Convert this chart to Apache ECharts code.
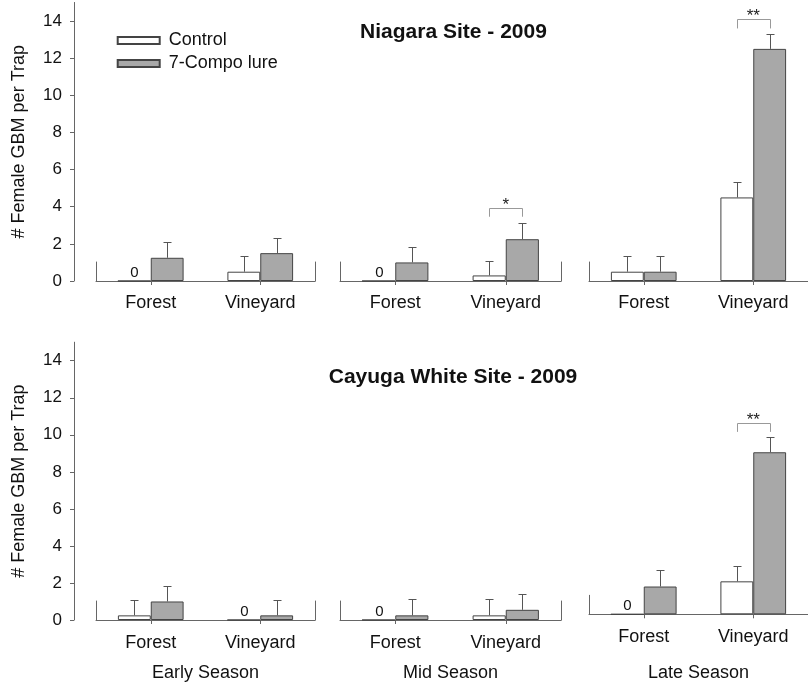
<!DOCTYPE html>
<html>
<head>
<meta charset="utf-8">
<script src="https://cdn.jsdelivr.net/npm/echarts@6/dist/echarts.min.js"></script>
<style>html,body{margin:0;padding:0;background:#fff;}#c{width:808px;height:687px;}</style>
</head>
<body>
<div id="c"></div>
<script>
// ---- data ----
var categories = ['Forest', 'Vineyard'];
var seasons = ['Early Season', 'Mid Season', 'Late Season'];
var siteTitles = ['Niagara Site - 2009', 'Cayuga White Site - 2009'];
var seriesNames = ['Control', '7-Compo lure'];
var yTickValues = [0, 2, 4, 6, 8, 10, 12, 14];

// Niagara (top row): [season][category]
var niagaraControl   = [[0, 0.5], [0, 0.3], [0.5, 4.5]];
var niagaraControlSE = [[0, 0.85], [0, 0.8], [0.85, 0.85]];
var niagaraLure      = [[1.25, 1.5], [1.0, 2.25], [0.5, 12.5]];
var niagaraLureSE    = [[0.85, 0.83], [0.85, 0.85], [0.85, 0.8]];
// Cayuga White (bottom row)
var cayugaControl    = [[0.25, 0], [0, 0.25], [0, 1.78]];
var cayugaControlSE  = [[0.85, 0], [0, 0.9], [0, 0.81]];
var cayugaLure       = [[1.0, 0.25], [0.25, 0.55], [1.5, 8.75]];
var cayugaLureSE     = [[0.85, 0.85], [0.9, 0.85], [0.87, 0.84]];
// significance brackets: [row, season, categoryIndex, bracketTop, legBottom, label]
var significance = [
  [0, 1, 1, 3.95, 3.46, '*'],
  [0, 2, 1, 14.1, 13.6, '**'],
  [1, 2, 1, 10.35, 9.85, '**']
];

// ---- layout ----
var FONT = '"Liberation Sans", Arial, sans-serif';
var panelLeft  = [96, 340, 589];
var panelWidth = [219, 221, 219];
var rowBase    = [[281, 281, 281], [620, 620, 614.3]];
var rowPxPerUnit = [18.57, 18.52];
var YMAX = 15;
var wallH = 19;

var rows = [
  {ctrl: niagaraControl, ctrlSE: niagaraControlSE, lure: niagaraLure, lureSE: niagaraLureSE},
  {ctrl: cayugaControl, ctrlSE: cayugaControlSE, lure: cayugaLure, lureSE: cayugaLureSE}
];

var grids = [], xAxes = [], yAxes = [], series = [];

function errRender(params, api) {
  var cat = api.value(0), mean = api.value(1), se = api.value(2), s = api.value(3);
  var band = api.size([1, 0])[0];
  var bw = band * 0.3;
  var c = api.coord([cat, mean]);
  var x = Math.round(c[0] + (s === 0 ? -bw / 2 : bw / 2)) + 0.5;
  var children = [];
  if (mean === 0) {
    children.push({type: 'text', style: {text: '0', x: x, y: c[1] - 8, align: 'center', verticalAlign: 'middle',
      font: '15px ' + FONT, fill: '#111'}});
  }
  if (se > 0) {
    var t = api.coord([cat, mean + se]);
    var yt = Math.round(t[1]) + 0.5;
    children.push({type: 'line', shape: {x1: x, y1: c[1], x2: x, y2: yt}, style: {stroke: '#555', lineWidth: 1}});
    children.push({type: 'line', shape: {x1: x - 4, y1: yt, x2: x + 4, y2: yt}, style: {stroke: '#555', lineWidth: 1}});
  }
  return {type: 'group', children: children};
}

function makeBracketRender(labels) {
  return function (params, api) {
    var cat = api.value(0), top = api.value(1), leg = api.value(2);
    var band = api.size([1, 0])[0];
    var bw = band * 0.3;
    var c = api.coord([cat, top]);
    var l = api.coord([cat, leg]);
    var x1 = Math.round(c[0] - bw / 2) + 0.5, x2 = Math.round(c[0] + bw / 2) + 0.5;
    var yt = Math.round(c[1]) + 0.5, yl = l[1];
    return {type: 'group', children: [
      {type: 'polyline', shape: {points: [[x1, yl], [x1, yt], [x2, yt], [x2, yl]]}, style: {stroke: '#999', lineWidth: 1, fill: null}},
      {type: 'text', style: {text: labels[params.dataIndex], x: c[0], y: yt - 3, align: 'center', verticalAlign: 'middle',
        font: '17px ' + FONT, fill: '#222'}}
    ]};
  };
}

for (var r = 0; r < 2; r++) {
  for (var p = 0; p < 3; p++) {
    var g = r * 3 + p;
    var base = rowBase[r][p];
    var h = YMAX * rowPxPerUnit[r];
    grids.push({left: panelLeft[p], width: panelWidth[p], top: base - h, height: h});
    var isBottom = r === 1;
    xAxes.push({
      type: 'category', gridIndex: g, data: categories,
      axisLine: {lineStyle: {color: '#666', width: 1}},
      axisTick: {show: true, alignWithLabel: true, length: 4, lineStyle: {color: '#666'}},
      axisLabel: {fontSize: 18, color: '#111', fontFamily: FONT, margin: (isBottom ? 14 : 13)},
      name: isBottom ? seasons[p] : '',
      nameLocation: 'middle',
      nameGap: isBottom ? (44 + (620 - base)) : 0,
      nameTextStyle: {fontSize: 18, color: '#111', fontFamily: FONT}
    });
    var yA = {
      type: 'value', gridIndex: g, min: 0, max: YMAX,
      splitLine: {show: false}
    };
    if (p === 0) {
      yA.show = true;
      yA.offset = panelLeft[0] - 74;
      yA.axisLine = {show: true, lineStyle: {color: '#666', width: 1}};
      yA.axisTick = {show: true, length: 4, inside: false, customValues: yTickValues, lineStyle: {color: '#666'}};
      yA.axisLabel = {show: true, fontSize: 17, color: '#111', fontFamily: FONT, margin: 12, customValues: yTickValues};
      yA.name = '# Female GBM per Trap';
      yA.nameLocation = 'middle';
      yA.nameGap = 46;
      yA.nameTextStyle = {fontSize: 18, color: '#111', fontFamily: FONT};
    } else {
      yA.show = false;
    }
    yAxes.push(yA);

    var d = rows[r];
    series.push({
      type: 'bar', name: seriesNames[0], xAxisIndex: g, yAxisIndex: g,
      data: d.ctrl[p], barWidth: '30%', barGap: '0%',
      itemStyle: {color: '#ffffff', borderColor: '#444', borderWidth: 1},
      silent: true, z: 3
    });
    series.push({
      type: 'bar', name: seriesNames[1], xAxisIndex: g, yAxisIndex: g,
      data: d.lure[p], barWidth: '30%', barGap: '0%',
      itemStyle: {color: '#a8a8a8', borderColor: '#444', borderWidth: 1},
      silent: true, z: 3
    });
    var errData = [];
    for (var k = 0; k < 2; k++) {
      errData.push([k, d.ctrl[p][k], d.ctrlSE[p][k], 0]);
      errData.push([k, d.lure[p][k], d.lureSE[p][k], 1]);
    }
    series.push({
      type: 'custom', xAxisIndex: g, yAxisIndex: g, renderItem: errRender,
      data: errData, silent: true, z: 5, clip: false
    });
    var brData = [], brLabels = [];
    significance.forEach(function (s) {
      if (s[0] === r && s[1] === p) { brData.push([s[2], s[3], s[4]]); brLabels.push(s[5]); }
    });
    if (brData.length) {
      series.push({
        type: 'custom', xAxisIndex: g, yAxisIndex: g,
        renderItem: makeBracketRender(brLabels),
        data: brData, silent: true, z: 5, clip: false
      });
    }
  }
}

// short "walls" at both ends of each panel
for (var r2 = 0; r2 < 2; r2++) {
  for (var p2 = 0; p2 < 3; p2++) {
    var gi = grids.length;
    var b2 = rowBase[r2][p2];
    grids.push({left: panelLeft[p2], width: panelWidth[p2], top: b2 - wallH, height: wallH});
    xAxes.push({type: 'category', gridIndex: gi, data: categories, show: false});
    ['left', 'right'].forEach(function (pos) {
      yAxes.push({
        type: 'value', gridIndex: gi, position: pos, min: 0, max: 1,
        axisLine: {show: true, lineStyle: {color: '#666', width: 1}},
        axisTick: {show: false}, axisLabel: {show: false}, splitLine: {show: false}
      });
    });
  }
}

var chart = echarts.init(document.getElementById('c'), null, {renderer: 'canvas'});
chart.setOption({
  animation: false,
  backgroundColor: '#ffffff',
  title: [
    {text: siteTitles[0], left: 453.5, top: 22, textAlign: 'center', padding: 0,
      textStyle: {fontSize: 21, fontWeight: 'bold', color: '#111', fontFamily: FONT}},
    {text: siteTitles[1], left: 453, top: 367, textAlign: 'center', padding: 0,
      textStyle: {fontSize: 21, fontWeight: 'bold', color: '#111', fontFamily: FONT}}
  ],
  legend: {
    data: seriesNames, orient: 'vertical', left: 116.7, top: 31.5, padding: 0,
    itemWidth: 42, itemHeight: 7, itemGap: 5, icon: 'rect', selectedMode: false,
    textStyle: {fontSize: 18, color: '#111', fontFamily: FONT, padding: [0, 0, 0, 4]}
  },
  grid: grids,
  xAxis: xAxes,
  yAxis: yAxes,
  series: series
});
</script>
</body>
</html>
